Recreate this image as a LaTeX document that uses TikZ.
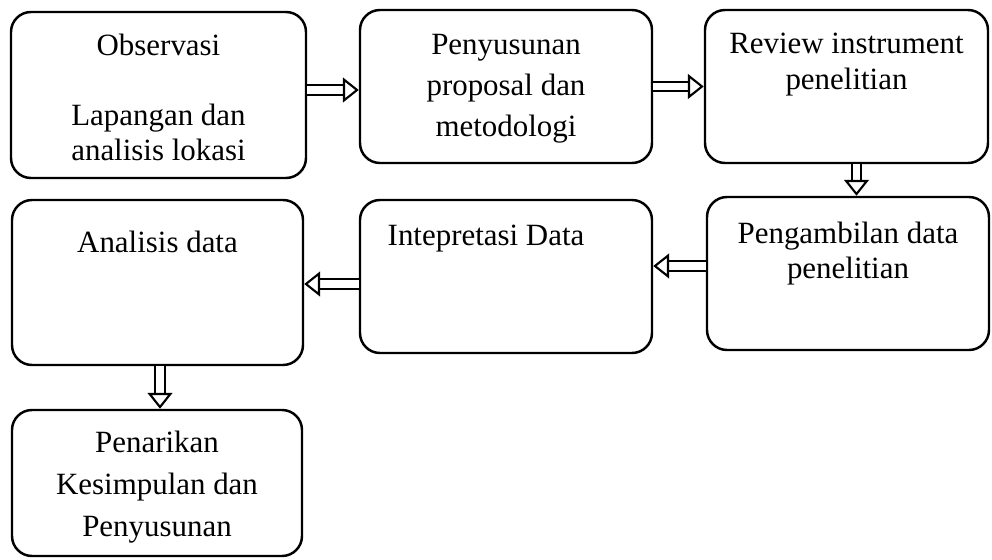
\documentclass[tikz,border=0pt]{standalone}
\usepackage{fontspec}
\setmainfont{Liberation Serif}
\usetikzlibrary{arrows.meta, positioning}

\begin{document}
\begin{tikzpicture}[y={(0,-1cm)},
    box/.style={rectangle, draw, line width=0.7pt, rounded corners=2mm},
    txt/.style={align=center, inner sep=0pt, anchor=base, font=\fontsize{8.8}{12}\selectfont},
    dblarrow/.style={double, double distance=2.2pt, line width=0.6pt, -{Triangle[open, length=4.5pt, width=7pt]}}]
  \useasboundingbox (0,0) rectangle (9.92,5.6);

  % Les cadres
  \node[box, minimum width=2.95cm, minimum height=1.66cm] (obs) at (1.585,0.95) {};
  \node[box, minimum width=2.92cm, minimum height=1.53cm] (prop) at (5.06,0.865) {};
  \node[box, minimum width=2.83cm, minimum height=1.53cm] (rev) at (8.465,0.865) {};
  \node[box, minimum width=2.82cm, minimum height=1.53cm] (ambil) at (8.48,2.735) {};
  \node[box, minimum width=2.92cm, minimum height=1.53cm] (interp) at (5.06,2.765) {};
  \node[box, minimum width=2.91cm, minimum height=1.65cm] (anal) at (1.575,2.825) {};
  \node[box, minimum width=2.90cm, minimum height=1.46cm] (tarik) at (1.57,4.83) {};

  % Les textes (ancre sur la derniere ligne)
  \node[txt] (obs1) at (1.585,0.55) {Observasi};
  \node[txt, font=\fontsize{8.8}{9.8}\selectfont] (obs2) at (1.585,1.60) {Lapangan dan\\analisis lokasi};
  \node[txt, font=\fontsize{8.8}{11.8}\selectfont] (prop1) at (5.06,1.37) {Penyusunan\\proposal dan\\metodologi};
  \node[txt, font=\fontsize{8.8}{10.5}\selectfont] (rev1) at (8.465,0.90) {Review instrument\\penelitian};
  \node[txt, font=\fontsize{8.8}{10}\selectfont] (ambil1) at (8.48,2.79) {Pengambilan data\\penelitian};
  \node[txt, anchor=base west] (interp1) at (3.87,2.45) {Intepretasi Data};
  \node[txt] (anal1) at (1.575,2.52) {Analisis data};
  \node[txt] (tarik1) at (1.57,5.37) {Penarikan\\Kesimpulan dan\\Penyusunan};

  % Flèches
  \draw[dblarrow] ([yshift=0.05cm]obs.east) -- ([yshift=-0.035cm]prop.west);
  \draw[dblarrow] (prop.east) -- (rev.west);
  \draw[dblarrow] ([xshift=0.1cm]rev.south) -- ([xshift=0.1cm]rev.south |- ambil.north);
  \draw[dblarrow] ([yshift=0.075cm]ambil.west) -- ([yshift=0.105cm]interp.east);
  \draw[dblarrow] ([yshift=-0.075cm]interp.west) -- ([yshift=-0.015cm]anal.east);
  \draw[dblarrow] ([xshift=0.025cm]anal.south) -- ([xshift=0.03cm]tarik.north);
\end{tikzpicture}
\end{document}
